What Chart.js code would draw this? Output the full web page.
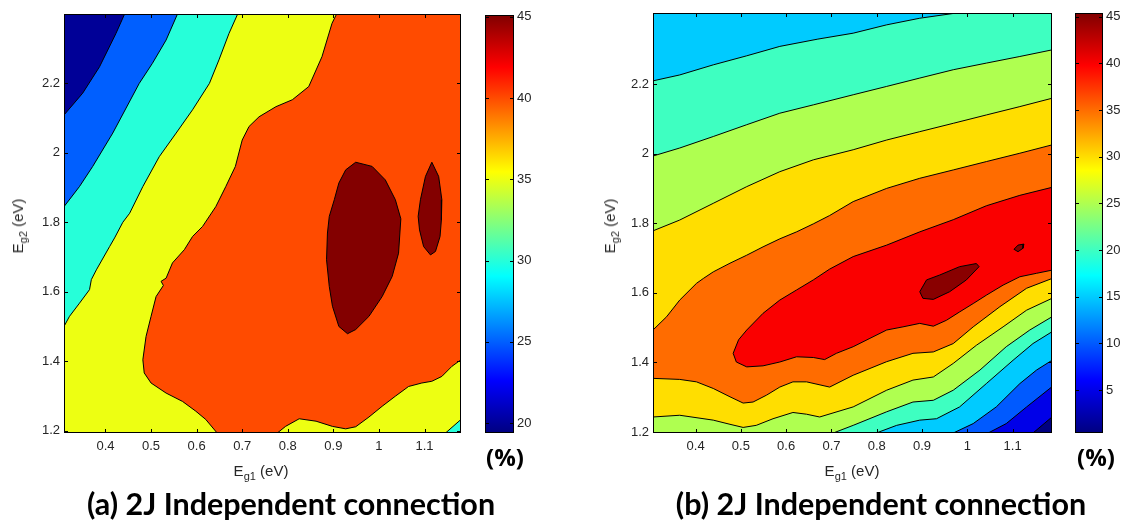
<!DOCTYPE html>
<html>
<head>
<meta charset="utf-8">
<script src="https://cdn.jsdelivr.net/npm/chart.js@4.4.1/dist/chart.umd.min.js"></script>
<style>
  html, body { margin: 0; padding: 0; background: #fff; }
  #fig { position: relative; width: 1128px; height: 527px; overflow: hidden; font-family: 'Liberation Sans', Arial, sans-serif; }
  .box { position: absolute; top: 0; }
  .lab { position: absolute; font-size: 15px; color: #262626; white-space: nowrap; transform: translate(-50%, -50%); }
  .lab sub { font-size: 11px; vertical-align: -4px; }
  .rot { transform: translate(-50%, -50%) rotate(-90deg); }
  .pct { position: absolute; font-family: 'Open Sans', sans-serif; font-weight: 700; font-size: 24px; transform: translate(-50%, -50%); }
  .ttl { position: absolute; font-family: Lato, 'Open Sans', sans-serif; font-weight: 700; font-size: 30.5px; white-space: nowrap; transform: translate(-50%, -50%); }
</style>
</head>
<body>
<div id="fig">
  <div class="box" style="left:0;width:470px;height:470px"><canvas id="plotA" width="470" height="470"></canvas></div>
  <div class="box" style="left:470px;width:80px;height:470px"><canvas id="barA" width="80" height="470"></canvas></div>
  <div class="box" style="left:580px;width:480px;height:470px"><canvas id="plotB" width="480" height="470"></canvas></div>
  <div class="box" style="left:1060px;width:68px;height:470px"><canvas id="barB" width="68" height="470"></canvas></div>

  <div class="lab" style="left:261px;top:472px">E<sub>g1</sub> (eV)</div>
  <div class="lab rot" style="left:19px;top:226px">E<sub>g2</sub> (eV)</div>
  <div class="lab" style="left:852px;top:472px">E<sub>g1</sub> (eV)</div>
  <div class="lab rot" style="left:611px;top:226px">E<sub>g2</sub> (eV)</div>

  <div class="pct" style="left:505px;top:456px">(%)</div>
  <div class="pct" style="left:1096px;top:456px">(%)</div>

  <div class="ttl" style="left:291px;top:503px">(a) 2J Independent connection</div>
  <div class="ttl" style="left:881px;top:503px">(b) 2J Independent connection</div>
</div>

<script>
// ---- (a) axes, colour range, contour bands (Eg1, Eg2 in eV) ----
const xRangeA = [0.309, 1.18];
const yRangeA = [1.193, 2.40];
const xTicksA = [0.4, 0.5, 0.6, 0.7, 0.8, 0.9, 1, 1.1];
const yTicksA = [1.2, 1.4, 1.6, 1.8, 2, 2.2];
const cRangeA = [19.4, 45.1];
const cTicksA = [20, 25, 30, 35, 40, 45];
const baseLevelA = 20;

const contA25 = [[0.442,2.40],[0.423,2.344],[0.387,2.248],[0.350,2.172],[0.309,2.109],
  [0.309,1.193],[1.18,1.193],[1.18,2.40]];
const contA30 = [[0.558,2.40],[0.533,2.325],[0.503,2.258],[0.474,2.20],[0.416,2.057],[0.372,1.961],
  [0.343,1.903],[0.309,1.845],[0.309,1.193],[1.18,1.193],[1.18,2.40]];
const contA35 = [[0.69,2.40],[0.671,2.344],[0.649,2.268],[0.628,2.20],[0.591,2.124],[0.555,2.057],
  [0.518,1.989],[0.482,1.903],[0.453,1.826],[0.438,1.800],[0.420,1.755],[0.409,1.730],[0.380,1.663],
  [0.369,1.635],[0.365,1.606],[0.343,1.567],[0.321,1.529],[0.309,1.50],[0.309,1.193],[1.146,1.193],
  [1.18,1.232],[1.18,2.40]];
const contA40 = [[0.907,2.40],[0.897,2.373],[0.875,2.277],[0.846,2.191],[0.81,2.153],[0.774,2.133],
  [0.737,2.104],[0.715,2.076],[0.70,2.037],[0.685,1.961],[0.664,1.903],[0.642,1.845],[0.613,1.788],
  [0.591,1.759],[0.573,1.721],[0.547,1.683],[0.533,1.639],[0.522,1.630],[0.527,1.618],[0.511,1.586],
  [0.500,1.529],[0.489,1.471],[0.482,1.404],[0.485,1.366],[0.500,1.337],[0.533,1.308],[0.569,1.284],
  [0.598,1.256],[0.620,1.232],[0.645,1.193],[0.777,1.193],[0.795,1.212],[0.825,1.234],[0.862,1.227],
  [0.898,1.212],[0.927,1.205],[0.949,1.211],[0.978,1.239],[1.007,1.27],[1.036,1.299],[1.065,1.327],
  [1.094,1.337],[1.116,1.342],[1.138,1.356],[1.160,1.385],[1.18,1.404],[1.18,2.40]];
const contA45a = [[0.949,1.973],[0.985,1.961],[1.014,1.922],[1.036,1.865],[1.048,1.81],[1.043,1.711],
  [1.029,1.644],[1.007,1.586],[0.978,1.529],[0.949,1.491],[0.931,1.479],[0.912,1.500],[0.898,1.558],
  [0.891,1.615],[0.885,1.692],[0.887,1.769],[0.891,1.817],[0.902,1.865],[0.912,1.913],[0.927,1.951]];
const contA45b = [[1.116,1.973],[1.131,1.932],[1.138,1.865],[1.137,1.807],[1.134,1.759],[1.124,1.716],
  [1.113,1.706],[1.098,1.730],[1.089,1.778],[1.086,1.817],[1.091,1.865],[1.102,1.932]];
const bandsA = [contA25, contA30, contA35, contA40, contA45a, contA45b];
const levelsA = [25, 30, 35, 40, 45, 45];

// ---- (b) ----
const xRangeB = [0.306, 1.187];
const yRangeB = [1.197, 2.404];
const xTicksB = [0.4, 0.5, 0.6, 0.7, 0.8, 0.9, 1, 1.1];
const yTicksB = [1.2, 1.4, 1.6, 1.8, 2, 2.2];
const cRangeB = [0.4, 45.4];
const cTicksB = [5, 10, 15, 20, 25, 30, 35, 40, 45];
const baseLevelB = 0.4;

const contB05 = [[0.306,1.197],[1.145,1.197],[1.187,1.243],[1.187,2.404],[0.306,2.404]];
const contB10 = [[0.306,1.197],[1.046,1.197],[1.086,1.224],[1.131,1.272],[1.187,1.330],
  [1.187,2.404],[0.306,2.404]];
const contB15 = [[0.306,1.197],[0.969,1.197],[1.013,1.224],[1.064,1.272],[1.116,1.339],[1.153,1.378],
  [1.187,1.406],[1.187,2.404],[0.306,2.404]];
const contB20 = [[0.306,2.209],[0.365,2.226],[0.439,2.255],[0.513,2.281],[0.586,2.308],[0.67,2.329],
  [0.748,2.346],[0.822,2.370],[0.895,2.389],[0.976,2.404],[1.187,2.404],[1.187,1.488],[1.145,1.454],
  [1.101,1.406],[1.042,1.339],[0.983,1.272],[0.932,1.238],[0.895,1.234],[0.844,1.219],[0.799,1.197],
  [0.306,1.197]];
const contB25 = [[0.306,1.993],[0.365,2.016],[0.439,2.049],[0.513,2.083],[0.586,2.116],[0.66,2.140],
  [0.748,2.169],[0.822,2.193],[0.895,2.217],[0.969,2.241],[1.042,2.260],[1.116,2.279],[1.187,2.298],
  [1.187,1.531],[1.138,1.493],[1.086,1.445],[1.028,1.378],[0.969,1.320],[0.925,1.291],[0.880,1.286],
  [0.822,1.258],[0.748,1.219],[0.704,1.197],[0.306,1.197]];
const contB30 = [[0.306,1.778],[0.365,1.809],[0.439,1.857],[0.513,1.905],[0.586,1.948],[0.66,1.982],
  [0.748,2.011],[0.822,2.039],[0.895,2.063],[0.969,2.087],[1.042,2.111],[1.116,2.135],[1.187,2.159],
  [1.187,1.584],[1.131,1.550],[1.079,1.502],[1.020,1.449],[0.969,1.397],[0.925,1.358],[0.880,1.349],
  [0.822,1.320],[0.748,1.272],[0.674,1.243],[0.645,1.251],[0.615,1.256],[0.571,1.238],[0.534,1.219],
  [0.505,1.213],[0.476,1.222],[0.439,1.234],[0.365,1.248],[0.306,1.243]];
const contB35 = [[0.306,1.493],[0.336,1.531],[0.365,1.579],[0.402,1.627],[0.417,1.641],[0.439,1.660],
  [0.476,1.685],[0.513,1.708],[0.549,1.732],[0.586,1.755],[0.623,1.775],[0.66,1.798],[0.696,1.822],
  [0.748,1.862],[0.822,1.900],[0.895,1.929],[0.969,1.953],[1.042,1.977],[1.116,2.001],[1.187,2.025],
  [1.187,1.641],[1.131,1.613],[1.072,1.560],[1.013,1.502],[0.969,1.454],[0.925,1.430],[0.880,1.426],
  [0.822,1.402],[0.748,1.363],[0.696,1.329],[0.645,1.344],[0.615,1.344],[0.586,1.329],[0.557,1.306],
  [0.527,1.286],[0.505,1.283],[0.476,1.301],[0.439,1.325],[0.402,1.344],[0.365,1.351],[0.306,1.354]];
const contB40 = [[0.483,1.426],[0.495,1.465],[0.513,1.493],[0.549,1.541],[0.586,1.579],[0.623,1.608],
  [0.66,1.637],[0.696,1.668],[0.748,1.704],[0.822,1.737],[0.895,1.775],[0.969,1.81],[1.042,1.85],
  [1.116,1.88],[1.187,1.903],[1.187,1.665],[1.153,1.656],[1.116,1.646],[1.079,1.622],[1.042,1.593],
  [1.013,1.569],[0.983,1.545],[0.954,1.521],[0.925,1.504],[0.895,1.512],[0.858,1.502],[0.822,1.493],
  [0.785,1.469],[0.748,1.445],[0.711,1.426],[0.685,1.408],[0.66,1.414],[0.623,1.416],[0.586,1.401],
  [0.549,1.39],[0.513,1.387],[0.49,1.401]];
const contB45a = [[0.895,1.603],[0.910,1.637],[0.939,1.651],[0.983,1.675],[1.020,1.684],[1.026,1.675],
  [0.998,1.637],[0.961,1.603],[0.925,1.581],[0.902,1.584]];
const contB45b = [[1.103,1.725],[1.112,1.737],[1.125,1.740],[1.123,1.728],[1.112,1.718]];
const bandsB = [contB05, contB10, contB15, contB20, contB25, contB30, contB35, contB40, contB45a, contB45b];
const levelsB = [5, 10, 15, 20, 25, 30, 35, 40, 45, 45];

// ---- helpers ----
const FONT = { family: "'Liberation Sans', Arial, sans-serif", size: 13 };
const TICK_COLOR = '#262626';

function jet(t) {
  const c = v => Math.round(255 * Math.max(0, Math.min(1, 1.5 - Math.abs(v))));
  return `rgb(${c(4 * t - 3)},${c(4 * t - 2)},${c(4 * t - 1)})`;
}
const levelColor = (lv, cr) => jet((lv - cr[0]) / (cr[1] - cr[0]));

function tickLine(ctx, x1, y1, x2, y2) {
  ctx.beginPath(); ctx.moveTo(x1, y1); ctx.lineTo(x2, y2); ctx.stroke();
}

// fills each band polygon from the points the library has placed on its scales
const contourFill = {
  id: 'contourFill',
  beforeDatasetsDraw(chart, args, opts) {
    const { ctx, chartArea: a } = chart;
    ctx.save();
    ctx.beginPath(); ctx.rect(a.left, a.top, a.width, a.height); ctx.clip();
    ctx.fillStyle = opts.base;
    ctx.fillRect(a.left, a.top, a.width, a.height);
    chart.data.datasets.forEach((ds, i) => {
      const pts = chart.getDatasetMeta(i).data;
      ctx.beginPath();
      pts.forEach((p, j) => j ? ctx.lineTo(p.x, p.y) : ctx.moveTo(p.x, p.y));
      ctx.closePath();
      ctx.fillStyle = ds.bandColor;
      ctx.fill();
    });
    ctx.restore();
  }
};

// matlab-style box with inward ticks on all sides
const frame = {
  id: 'frame',
  afterDraw(chart) {
    const { ctx, chartArea: a } = chart;
    const x = chart.scales.x, y = chart.scales.y;
    ctx.save();
    ctx.strokeStyle = '#000';
    ctx.lineWidth = 1;
    ctx.strokeRect(a.left + 0.5, a.top + 0.5, a.width - 1, a.height - 1);
    if (x.options.display) {
      x.ticks.forEach(t => {
        const px = Math.round(x.getPixelForValue(t.value)) + 0.5;
        tickLine(ctx, px, a.bottom, px, a.bottom - 4);
        tickLine(ctx, px, a.top, px, a.top + 4);
      });
    }
    y.ticks.forEach(t => {
      const py = Math.round(y.getPixelForValue(t.value)) + 0.5;
      tickLine(ctx, a.left, py, a.left + 4, py);
      tickLine(ctx, a.right, py, a.right - 4, py);
    });
    ctx.restore();
  }
};

function contourChart(id, bands, levels, cr, baseLevel, xr, yr, xt, yt, yAxisW, pad) {
  const onEdge = (p, q) =>
    (p[0] === q[0] && (p[0] === xr[0] || p[0] === xr[1])) ||
    (p[1] === q[1] && (p[1] === yr[0] || p[1] === yr[1]));
  const datasets = bands.map((poly, i) => {
    const ring = poly.concat([poly[0]]);
    return {
      data: ring.map(([x, y]) => ({ x, y })),
      bandColor: levelColor(levels[i], cr),
      showLine: true,
      borderColor: '#000',
      borderWidth: 1,
      pointRadius: 0,
      pointHoverRadius: 0,
      tension: 0,
      segment: {
        borderColor: c => onEdge(ring[c.p0DataIndex], ring[c.p1DataIndex]) ? 'rgba(0,0,0,0)' : '#000'
      }
    };
  });
  return new Chart(document.getElementById(id), {
    type: 'scatter',
    data: { datasets },
    plugins: [contourFill, frame],
    options: {
      responsive: false,
      animation: false,
      devicePixelRatio: 1,
      events: [],
      layout: { padding: pad },
      plugins: {
        legend: { display: false },
        tooltip: { enabled: false },
        contourFill: { base: levelColor(baseLevel, cr) }
      },
      scales: {
        x: {
          type: 'linear', min: xr[0], max: xr[1],
          grid: { display: false, drawTicks: false }, border: { display: false },
          afterBuildTicks: s => { s.ticks = xt.map(v => ({ value: v })); },
          afterFit: s => { s.height = 37; },
          ticks: { font: FONT, color: TICK_COLOR, padding: 6, maxRotation: 0, autoSkip: false, callback: v => String(v) }
        },
        y: {
          type: 'linear', min: yr[0], max: yr[1],
          grid: { display: false, drawTicks: false }, border: { display: false },
          afterBuildTicks: s => { s.ticks = yt.map(v => ({ value: v })); },
          afterFit: s => { s.width = yAxisW; },
          ticks: { font: FONT, color: TICK_COLOR, padding: 4, autoSkip: false, callback: v => String(v) }
        }
      }
    }
  });
}

function colorBar(id, cr, ct, axisW, pad) {
  return new Chart(document.getElementById(id), {
    type: 'bar',
    data: {
      labels: [''],
      datasets: [{
        data: [[cr[0], cr[1]]],
        borderWidth: 0,
        barPercentage: 1,
        categoryPercentage: 1,
        backgroundColor: c => {
          const a = c.chart.chartArea;
          if (!a) return '#000';
          const g = c.chart.ctx.createLinearGradient(0, a.bottom, 0, a.top);
          [0, 0.125, 0.375, 0.625, 0.875, 1].forEach(t => g.addColorStop(t, jet(t)));
          return g;
        }
      }]
    },
    plugins: [frame],
    options: {
      responsive: false,
      animation: false,
      devicePixelRatio: 1,
      events: [],
      layout: { padding: pad },
      plugins: { legend: { display: false }, tooltip: { enabled: false } },
      scales: {
        x: { display: false },
        y: {
          position: 'right', min: cr[0], max: cr[1],
          grid: { display: false, drawTicks: false }, border: { display: false },
          afterBuildTicks: s => { s.ticks = ct.map(v => ({ value: v })); },
          afterFit: s => { s.width = axisW; },
          ticks: { font: FONT, color: TICK_COLOR, padding: 3, autoSkip: false, callback: v => String(v) }
        }
      }
    }
  });
}

contourChart('plotA', bandsA, levelsA, cRangeA, baseLevelA, xRangeA, yRangeA, xTicksA, yTicksA, 64,
  { top: 14, right: 9, left: 0, bottom: 0 });
colorBar('barA', cRangeA, cTicksA, 36, { top: 15, left: 15, right: 0, bottom: 37 });
contourChart('plotB', bandsB, levelsB, cRangeB, baseLevelB, xRangeB, yRangeB, xTicksB, yTicksB, 73,
  { top: 13, right: 8, left: 0, bottom: 0 });
colorBar('barB', cRangeB, cTicksB, 25, { top: 13, left: 15, right: 0, bottom: 37 });
</script>
</body>
</html>
